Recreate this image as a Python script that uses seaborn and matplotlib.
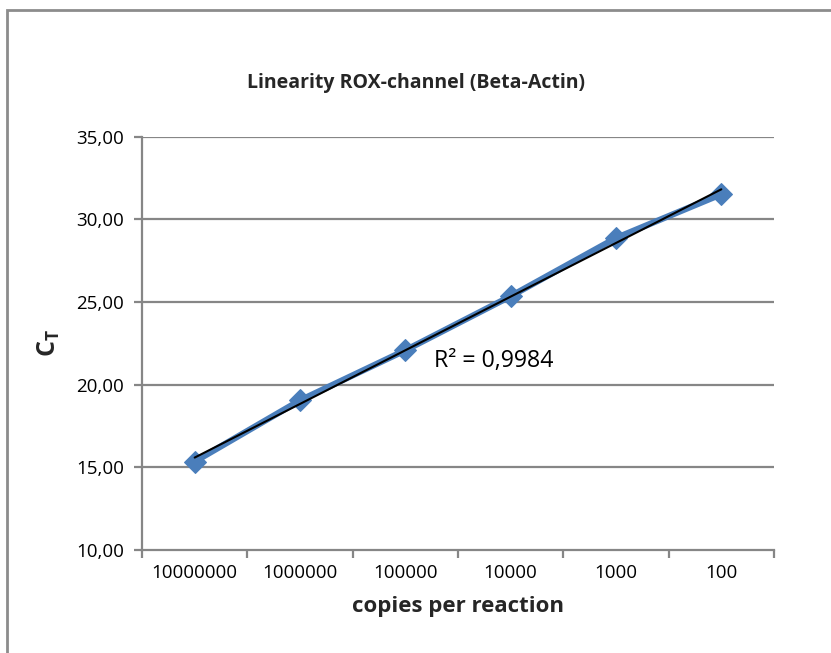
import numpy as np
import pandas as pd
import matplotlib
matplotlib.use("Agg")
import matplotlib.pyplot as plt
import seaborn as sns
from matplotlib.patches import Rectangle

categories = ["10000000", "1000000", "100000", "10000", "1000", "100"]
ct_values = [15.35, 19.05, 22.08, 25.35, 28.87, 31.52]
y_ticks = [10, 15, 20, 25, 30, 35]
r2_label = "R² = 0,9984"
title = "Linearity ROX-channel (Beta-Actin)"
xlabel = "copies per reaction"

sns.set_theme(style="white")
plt.rcParams["font.family"] = ["Open Sans", "DejaVu Sans"]
plt.rcParams["mathtext.fontset"] = "custom"
plt.rcParams["mathtext.bf"] = "Open Sans:bold"
plt.rcParams["mathtext.rm"] = "Open Sans"

df = pd.DataFrame({"pos": np.arange(len(categories)), "ct": ct_values, "cat": categories})

fig = plt.figure(figsize=(8.31, 6.53), dpi=100)
ax = fig.add_axes([0.1709, 0.1577, 0.9314 - 0.1709, 0.7907 - 0.1577])

grid_c = "#868686"
for yv in y_ticks[1:]:
    ax.axhline(yv, color=grid_c, lw=1.6, zorder=0)

sns.lineplot(data=df, x="pos", y="ct", ax=ax, color="#4A7EBB", lw=4.5,
             marker="D", markersize=11, markeredgecolor="#4A7EBB", zorder=3)

# linear trendline
coef = np.polyfit(df["pos"], df["ct"], 1)
xs = np.array([df["pos"].min(), df["pos"].max()])
ax.plot(xs, np.polyval(coef, xs), color="black", lw=1.5, zorder=4)

ax.text(2.27, 21.45, r2_label, fontsize=16.7, va="center", ha="left", color="black")

ax.set_xlim(-0.5, len(categories) - 0.5)
ax.set_ylim(10, 35)
ax.set_yticks(y_ticks)
ax.set_yticklabels([f"{v:.2f}".replace(".", ",") for v in y_ticks], fontsize=13.5)
ax.set_xticks(np.arange(-0.5, len(categories), 1.0))
ax.set_xticklabels([])
ax.set_xticks(np.arange(len(categories)), minor=True)
ax.set_xticklabels(categories, minor=True, fontsize=13.5)
ax.tick_params(axis="x", which="major", direction="out", length=6, width=1.6, color=grid_c, bottom=True)
ax.tick_params(axis="x", which="minor", length=0, pad=10, labelcolor="black")
ax.tick_params(axis="y", which="major", direction="out", length=6, width=1.6, color=grid_c, left=True, pad=7, labelcolor="black")

for s in ["top", "right"]:
    ax.spines[s].set_visible(False)
for s in ["left", "bottom"]:
    ax.spines[s].set_color(grid_c)
    ax.spines[s].set_linewidth(1.6)

ax.set_xlabel(xlabel, fontsize=16, fontweight="bold", labelpad=10)
ax.set_ylabel(r"$\mathbf{C}_\mathbf{T}$", fontsize=18, labelpad=10)
fig.text(416 / 831, 1 - 83 / 653, title, ha="center", va="center", fontsize=14, fontweight="bold")

# chart border (only top/left visible in the crop)
fig.patches.append(Rectangle((7 / 831, -0.1), 1.2, 1 - 10 / 653 + 0.1, transform=fig.transFigure,
                             fill=False, edgecolor="#8c8c8c", lw=2))

fig.savefig("out.png", dpi=100)
